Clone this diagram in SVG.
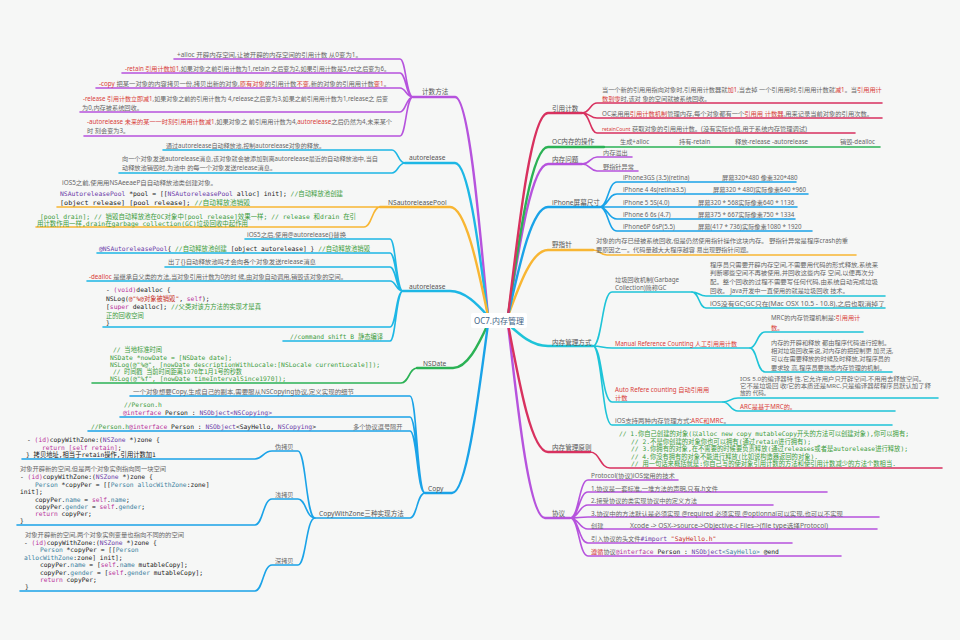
<svg xmlns="http://www.w3.org/2000/svg" width="960" height="640" viewBox="0 0 960 640">
<style>
text{font-family:"Noto Sans","Noto Sans CJK SC",sans-serif;font-size:6.2px;fill:#666}
.l{font-size:6.6px;fill:#555}
.c{font-family:"DejaVu Sans Mono","Noto Sans CJK SC",monospace;font-size:6.3px;fill:#222}
.r{fill:#d8403a}
.g{fill:#3c9c3c}
.k{fill:#b8329b}
.p{fill:#6a3aa8}
.s{fill:#c62b1f}
.q{fill:#3d7f9e}
.sm{font-size:5.6px}
.m{stroke-width:2.4;fill:none;stroke-linecap:round}
.b{stroke-width:1.6;fill:none;stroke-linecap:round}
</style>
<rect width="960" height="640" fill="#f6f7f6"/>
<g id="connectors">
<g stroke="#b653dd">
<path class="m" d="M488,316 C478,206 468,97 455,97 L413,97"/>
<path class="b" d="M413,97 C406,97 406,59 400,59 L174,59 M413,97 C406,97 406,73 400,73 L122,73 M413,97 C406,97 406,88 400,88 L96,88 M413,97 C406,97 406,112 400,112 L80,112 M413,97 C406,97 406,136 400,136 L84,136"/>
<path class="m" d="M508,316 C520,240 532,164 548,164 L582,164"/>
<path class="b" d="M582,164 C590,164 590,157 597,157 L632,157 M582,164 C590,164 590,171 597,171 L638,171"/>
<path class="m" d="M508,324 C519,421 530,518 545,518 L570,518"/>
<path class="b" d="M570,518 C579,518 579,480 588,480 L678,480 M570,518 C579,518 579,492 588,492 L827,492 M570,518 C579,518 579,505 588,505 L773,505 M570,518 C579,518 579,517 588,517 L879,517 M570,518 C579,518 579,529 588,529 L877,529 M570,518 C579,518 579,543 588,543 L792,543 M570,518 C579,518 579,556 588,556 L841,556"/>
</g>
<g stroke="#1db7e5">
<path class="m" d="M488,316 C478,240 468,163 455,163 L405,163"/>
<path class="b" d="M405,163 C398,163 398,150 392,150 L163,150 M405,163 C398,163 398,173 392,173 L119,173"/>
<path class="m" d="M488,316 C477,304 465,291 450,291 L403,291"/>
<path class="b" d="M403,291 C396,291 396,239 390,239 L245,239 M403,291 C396,291 396,253 390,253 L97,253 M403,291 C396,291 396,267 390,267 L165,267 M403,291 C396,291 396,281 390,281 L87,281 M403,291 C396,291 396,327 390,327 L103,327 M403,291 C396,291 396,341 390,341 L283,341"/>
</g>
<g stroke="#f8b633">
<path class="m" d="M488,316 C477,262 465,207 450,207 L380,207"/>
<path class="b" d="M380,207 L57,207 M380,207 C372,207 372,227 364,227 L36,227"/>
<path class="m" d="M508,316 C520,283 532,250 548,250 L593,250"/>
<path class="b" d="M593,250 C600,250 600,255 607,255 L856,255"/>
</g>
<g stroke="#2bb255">
<path class="m" d="M488,324 C478,346 467,368 453,368 L417,368"/>
<path class="b" d="M417,368 C409,368 409,383 401,383 L92,383"/>
<path class="m" d="M508,316 C520,232 532,147 548,147 L604,147"/>
<path class="b" d="M604,147 L880,147"/>
</g>
<g stroke="#1aa3e8">
<path class="m" d="M488,324 C477,408 466,493 452,493 L425,493"/>
<path class="b" d="M425,493 C417,493 417,396 410,396 L130,396 M425,493 C417,493 417,417 410,417 L120,417 M425,493 C417,493 417,431 410,431 L88,431 M425,493 C417,493 417,518 410,518 L315,518"/>
<path class="b" d="M315,518 C306,518 306,451 298,451 L272,451 C263,451 263,459 255,459 L22,459 M315,518 C306,518 306,499 298,499 L272,499 C263,499 263,525 255,525 L17,525 M315,518 C306,518 306,565 298,565 L272,565 C263,565 263,591 255,591 L20,591"/>
<path class="m" d="M508,316 C520,262 532,207 548,207 L600,207"/>
<path class="b" d="M600,207 C608,207 608,182 617,182 L796,182 M600,207 C608,207 608,194 617,194 L808,194 M600,207 L797,207 M600,207 C608,207 608,219 617,219 L795,219 M600,207 C608,207 608,231 617,231 L812,231"/>
</g>
<g stroke="#d8315f">
<path class="m" d="M508,316 C520,214 532,113 548,113 L582,113"/>
<path class="b" d="M582,113 C590,113 590,103 597,103 L882,103 M582,113 C590,113 590,118 597,118 L882,118 M582,113 C590,113 590,133 597,133 L855,133"/>
<path class="m" d="M508,324 C520,388 532,452 548,452 L590,452"/>
<path class="b" d="M590,452 C600,452 600,468 610,468 L942,468"/>
</g>
<g stroke="#1ec4d8">
<path class="m" d="M508,324 C520,335 532,346 548,346 L593,346"/>
<path class="b" d="M593,346 C602,346 602,292 612,292 L692,292 M593,346 C602,346 602,348 612,348 L750,348 M593,346 C602,346 602,402 612,402 L723,402 M593,346 C602,346 602,425 612,425 L892,425"/>
<path class="b" d="M692,292 C699,292 699,296 706,296 L885,296 M692,292 C699,292 699,308 706,308 L885,308"/>
<path class="b" d="M750,348 C757,348 757,332 765,332 L863,332 M750,348 C757,348 757,372 765,372 L892,372"/>
<path class="b" d="M723,402 C730,402 730,398 738,398 L938,398 M723,402 C730,402 730,411 738,411 L895,411"/>
</g>
</g>
<g id="root">
<rect x="471" y="313" width="56" height="15" rx="2" fill="#fff"/>
<text x="499" y="323.5" text-anchor="middle" style="font-size:8px;fill:#3f6384">OC7.内存管理</text>
</g>
<g id="n-count">
<text class="l" x="422" y="94">计数方法</text>
<text x="177" y="56.5" textLength="185" lengthAdjust="spacingAndGlyphs">+alloc 开辟内存空间,让被开辟的内存空间的引用计数 从0变为1。</text>
<text x="125" y="70.5" textLength="265" lengthAdjust="spacingAndGlyphs"><tspan class="r">-retain 引用计数加1</tspan>,如果对象之前引用计数为1,retain 之后变为2,如果引用计数是5,ret之后变为6。</text>
<text x="99" y="85.5" textLength="291" lengthAdjust="spacingAndGlyphs"><tspan class="r">-copy</tspan> 把某一对象的内容拷贝一份,拷贝出新的对象,<tspan class="r">原有对象</tspan>的引用计数<tspan class="r">不变</tspan>,新的对象的引用用计数<tspan class="r">变1</tspan>。</text>
<text x="83" y="101" textLength="305" lengthAdjust="spacingAndGlyphs"><tspan class="r">-release 引用计数立即减1</tspan>,如果对象之前的引用计数为 4,release之后变为3,如果之前引用用计数为1,release之 后变</text>
<text x="82" y="109.5">为0,内存被系统回收。</text>
<text x="87" y="124" textLength="305" lengthAdjust="spacingAndGlyphs"><tspan class="r">-autorelease 未来的某一一时刻引用用计数减1</tspan>,如果对象之 前引用用计数为4,<tspan class="r">autorelease</tspan>之后仍然为4,未来某个</text>
<text x="87" y="132.5">时 刻会变为3。</text>
</g>
<g id="n-autorelease1">
<text class="l" x="409" y="159.5">autorelease</text>
<text x="166" y="147.5" textLength="159" lengthAdjust="spacingAndGlyphs">通过autorelease自动释放池,控制autorelease对象的释放。</text>
<text x="122" y="161" textLength="256" lengthAdjust="spacingAndGlyphs">向一个对象发送autorelease消息,该对象就会被添加到离autorelease最近的自动释放池中,当自</text>
<text x="122" y="169.5">动释放池销毁时,为池中 的每一个对象发送release消息。</text>
</g>
<g id="n-pool">
<text class="l" x="388" y="204.5">NSautoreleasePool</text>
<text x="62" y="185" textLength="155" lengthAdjust="spacingAndGlyphs">iOS5之前,使用用NSAeeaeP自自动释放池类创建对象。</text>
<text class="c" x="60" y="195.5" textLength="283" lengthAdjust="spacingAndGlyphs"><tspan class="p">NSAutoreleasePool</tspan> *pool = [[<tspan class="p">NSAutoreleasePool</tspan> alloc] init]; <tspan class="g">//自动释放池创建</tspan></text>
<text class="c" x="60" y="204.5" textLength="190" lengthAdjust="spacingAndGlyphs">[object release]    [pool release]; <tspan class="g">//自动释放池销毁</tspan></text>
<text class="c g" x="40" y="218.5" textLength="316" lengthAdjust="spacingAndGlyphs">[pool  drain]; // 销毁自动释放池在OC对象中[pool release]效果一样; // release 和drain 在引</text>
<text class="c g" x="37" y="225.5" textLength="211" lengthAdjust="spacingAndGlyphs">用计数作用一样,drain在garbage collection(GC)垃圾回收中起作用</text>
</g>
<g id="n-autorelease2">
<text class="l" x="409" y="288.5">autorelease</text>
<text x="247" y="236.5" textLength="99" lengthAdjust="spacingAndGlyphs">iOS5之后,使用@autorelease{}替换</text>
<text class="c" x="99" y="250.5" textLength="271" lengthAdjust="spacingAndGlyphs"><tspan class="p">@NSAutoreleasePool</tspan>{ <tspan class="g">//自动释放池创建</tspan> [object autorelease] } <tspan class="g">//自动释放池销毁</tspan></text>
<text x="168" y="264" textLength="148" lengthAdjust="spacingAndGlyphs">出了{}自动释放池吗才会向各个对象发送release消息</text>
<text x="89" y="278.5" textLength="258" lengthAdjust="spacingAndGlyphs"><tspan class="r">-dealloc</tspan> 是继承自父类的方法,当对象引用计数为0的时 候,由对象自动调用,销毁该对象的空间。</text>
<text class="c" x="106" y="292">- <tspan class="k">(void)</tspan>dealloc {</text>
<text class="c" x="106" y="300.5">NSLog(<tspan class="s">@"%@对象被销毁"</tspan>, <tspan class="k">self</tspan>);</text>
<text class="c" x="106" y="309" textLength="155" lengthAdjust="spacingAndGlyphs">[<tspan class="k">super</tspan> dealloc]; <tspan class="g">//父类对该方方法的实现才是真</tspan></text>
<text class="c g" x="106" y="317.5">正的回收空间</text>
<text class="c" x="106" y="325">}</text>
<text class="c g" x="290" y="339" textLength="93" lengthAdjust="spacingAndGlyphs">//command shift B 静态编译</text>
</g>
<g id="n-nsdate">
<text class="l" x="423" y="365.5">NSDate</text>
<text class="c g" x="113" y="352">// 当地标准时间</text>
<text class="c g" x="110" y="359.5" textLength="122" lengthAdjust="spacingAndGlyphs">NSDate *nowDate = [NSDate date];</text>
<text class="c g" x="110" y="366.5" textLength="270" lengthAdjust="spacingAndGlyphs">NSLog(@"%@", [nowDate descriptionWithLocale:[NSLocale currentLocale]]);</text>
<text class="c g" x="113" y="374" textLength="129" lengthAdjust="spacingAndGlyphs">// 时间戳 当前时间距离1970年1月1号的秒数</text>
<text class="c g" x="110" y="381" textLength="176" lengthAdjust="spacingAndGlyphs">NSLog(@"%f", [nowDate timeIntervalSince1970]);</text>
</g>
<g id="n-copy">
<text class="l" x="428" y="490.5">Copy</text>
<text x="133" y="393.5" textLength="221" lengthAdjust="spacingAndGlyphs">一个对象想要Copy,生成自己的副本,需要服从NSCopying协议,定义实现的细节</text>
<text class="c g" x="124" y="406.5">//Person.h</text>
<text class="c" x="123" y="415" textLength="149" lengthAdjust="spacingAndGlyphs"><tspan class="k">@interface</tspan> Person : <tspan class="p">NSObject&lt;NSCopying&gt;</tspan></text>
<text class="c" x="91" y="428.5" textLength="225" lengthAdjust="spacingAndGlyphs"><tspan class="g">//Person.h</tspan><tspan class="k">@interface</tspan> Person : <tspan class="p">NSObject</tspan>&lt;SayHello, <tspan class="p">NSCopying</tspan>&gt;</text>
<text x="353" y="428.5">多个协议逗号隔开</text>
</g>
<g id="n-copywithzone">
<text x="319" y="515.5" class="l">CopyWithZone三种实现方法</text>
<text x="275" y="449">伪拷贝</text>
<text x="275" y="496.5">浅拷贝</text>
<text x="275" y="562.5">深拷贝</text>
<text class="c" x="27" y="442">- <tspan class="k">(id)</tspan>copyWithZone:(<tspan class="p">NSZone</tspan> *)zone {</text>
<text class="c" x="42" y="449.5"><tspan class="k">return</tspan> <tspan class="k">[self retain]</tspan>;</text>
<text class="c" x="26" y="457">} 拷贝地址,相当于retain操作,引用计数加1</text>
<text x="20" y="471" textLength="146" lengthAdjust="spacingAndGlyphs">对象开辟新的空间,但是两个对象实例指向同一块空间</text>
<text class="c" x="20" y="479">- <tspan class="k">(id)</tspan>copyWithZone:(<tspan class="p">NSZone</tspan> *)zone {</text>
<text class="c" x="35" y="486.5"><tspan class="q">Person</tspan> *copyPer = [[<tspan class="q">Person</tspan> <tspan class="q">allocWithZone</tspan>:zone]</text>
<text class="c" x="20" y="494">init];</text>
<text class="c" x="35" y="501.5">copyPer.<tspan class="q">name</tspan> = <tspan class="k">self</tspan>.<tspan class="q">name</tspan>;</text>
<text class="c" x="35" y="509">copyPer.<tspan class="q">gender</tspan> = <tspan class="k">self</tspan>.<tspan class="q">gender</tspan>;</text>
<text class="c" x="35" y="516"><tspan class="k">return</tspan> copyPer;</text>
<text class="c" x="20" y="523">}</text>
<text x="25" y="536.5" textLength="159" lengthAdjust="spacingAndGlyphs">对象开辟新的空间,两个对象实例变量也指向不同的的空间</text>
<text class="c" x="24" y="544.5">- <tspan class="k">(id)</tspan>copyWithZone:(<tspan class="p">NSZone</tspan> *)zone {</text>
<text class="c" x="40" y="552"><tspan class="q">Person</tspan> *copyPer = [[<tspan class="q">Person</tspan></text>
<text class="c" x="24" y="559.5"><tspan class="q">allocWithZone</tspan>:zone] init];</text>
<text class="c" x="40" y="567">copyPer.<tspan class="q">name</tspan> = [<tspan class="k">self</tspan>.<tspan class="q">name</tspan> mutableCopy];</text>
<text class="c" x="40" y="574.5">copyPer.<tspan class="q">gender</tspan> = [<tspan class="k">self</tspan>.<tspan class="q">gender</tspan> mutableCopy];</text>
<text class="c" x="40" y="582"><tspan class="k">return</tspan> copyPer;</text>
<text class="c" x="25" y="589">}</text>
</g>
<g id="n-refcount">
<text class="l" x="552" y="110.5">引用计数</text>
<text x="602" y="91.5">当一个新的引用用指向对象时,引用用计数器就<tspan class="r">加1</tspan>,当去掉 一个引用用时,引用用计数就<tspan class="r">减1</tspan>。当<tspan class="r">引用用计</tspan></text>
<text x="602" y="100.5"><tspan class="r">数到零</tspan>时,该对 象的空间就被系统回收。</text>
<text x="602" y="115.5" textLength="271" lengthAdjust="spacingAndGlyphs">OC采用用<tspan class="r">引用计数机制</tspan>管理内存,每个对象都有一个<tspan class="r">引用用 计数器</tspan>,用来记录当前对象的引用次数。</text>
<text x="602" y="130.5" textLength="205" lengthAdjust="spacingAndGlyphs"><tspan class="r" style="font-size:5px">retainCount</tspan> 获取对象的引用用计数。(没有实际价值,用于系统内存管理调试)</text>
</g>
<g id="n-ops">
<text class="l" x="552" y="143.5">OC内存的操作</text>
<text x="620" y="143.5">生成+alloc</text>
<text x="679" y="143.5">持有-retain</text>
<text x="735" y="143.5">释放-release  -autorelease</text>
<text x="840" y="143.5">销毁-dealloc</text>
</g>
<g id="n-problem">
<text class="l" x="552" y="161.5">内存问题</text>
<text x="603" y="155">内存溢出</text>
<text x="603" y="168.5">野指针异常</text>
</g>
<g id="n-iphone">
<text class="l" x="552" y="204.5">iPhone屏幕尺寸</text>
<text x="623" y="179.5">iPhone3GS (3.5)(retina)</text><text x="722" y="179.5">屏幕320*480 像素320*480</text>
<text x="623" y="192">iPhone 4 4s(retina3.5)</text><text x="713" y="192">屏幕320 * 480)实际像素640 *960</text>
<text x="623" y="204.5">iPhone 5 5S(4.0)</text><text x="698" y="204.5">屏幕320 * 568实际像素640  * 1136</text>
<text x="623" y="216.5">iPhone 6 6s (4.7)</text><text x="698" y="216.5">屏幕375 * 667实际像素750 * 1334</text>
<text x="623" y="229">iPhone6P 6sP(5.5)</text><text x="698" y="229">屏幕(417 * 736)实际像素1080 * 1920</text>
</g>
<g id="n-wild">
<text class="l" x="552" y="246.5">野指针</text>
<text x="596" y="243" textLength="252" lengthAdjust="spacingAndGlyphs">对象的内存已经被系统回收,但是仍然使用指针操作这块内存。 野指针异常是程序crash的重</text>
<text x="596" y="251.5">要原因之一。代码量越大大程序越容 易出现野指针问题。</text>
</g>
<g id="n-manage">
<text class="l" x="552" y="344.5">内存管理方式</text>
<text x="615" y="281.5">垃圾回收机制(Garbage</text>
<text x="615" y="289.5">Collection)简称GC</text>
<text x="710" y="266.5" textLength="168" lengthAdjust="spacingAndGlyphs">程序员只需要开辟内存空间,不需要用代码的形式释放,系统来</text>
<text x="710" y="275" textLength="164" lengthAdjust="spacingAndGlyphs">判断哪些空间不再被使用,并回收这些内存 空间,以便再次分</text>
<text x="710" y="283.5" textLength="168" lengthAdjust="spacingAndGlyphs">配。整个回收的过程不需要写任何代码,由系统自动完成垃圾</text>
<text x="710" y="293">回收。 Java开发中一直使用的就是垃圾回收 技术。</text>
<text x="710" y="306" textLength="175" lengthAdjust="spacingAndGlyphs">iOS没有GC;GC只在(Mac OSX 10.5 - 10.8),之后也取消掉了</text>
<text class="r" x="615" y="345.5" textLength="122" lengthAdjust="spacingAndGlyphs">Manual Reference Counting 人工引用用计数</text>
<text x="771" y="319.5">MRC的内存管理机制是:<tspan class="r">引用用计</tspan></text>
<text x="771" y="329.5" class="r">数。</text>
<text x="771" y="345">内存的开辟和释放 都由程序代码进行控制。</text>
<text x="771" y="353">相对垃圾回收来说,对内存的把控制更 加灵活,</text>
<text x="771" y="361">可以在需要释放的时候及时释放,对程序员的</text>
<text x="771" y="369.5">要求较 高,程序员要熟悉内存管理的机制。</text>
<text class="r" x="615" y="392">Auto Refere counting 自动引用用</text>
<text class="r" x="615" y="399.5">计数</text>
<text class="sm" x="740" y="381" textLength="185" lengthAdjust="spacingAndGlyphs">IOS 5.0的编译器特 性,它允许用户只开辟空间,不用用去释放空间。</text>
<text class="sm" x="740" y="388" textLength="191" lengthAdjust="spacingAndGlyphs">它不是垃圾回 收!它的本质还是MRC,只是编译器帮程序员默认加了释</text>
<text class="sm" x="740" y="395">放的 代码。</text>
<text class="r" x="740" y="408.5">ARC是基于MRC的。</text>
<text x="615" y="422.5" textLength="115" lengthAdjust="spacingAndGlyphs">iOS支持两种内存管理方式:<tspan class="r">ARC和MRC</tspan>。</text>
</g>
<g id="n-principle">
<text class="l" x="552" y="450">内存管理原则</text>
<text class="c g" x="619" y="436" textLength="290" lengthAdjust="spacingAndGlyphs">// 1.你自己创建的对象(以alloc new copy mutableCopy开头的方法可以创建对象),你可以拥有;</text>
<text class="c g" x="631" y="443.5" textLength="180" lengthAdjust="spacingAndGlyphs">// 2.不是你创建的对象你也可以拥有(通过retain进行拥有);</text>
<text class="c g" x="631" y="451" textLength="277" lengthAdjust="spacingAndGlyphs">// 3.你拥有的对象,在不需要的时候要负责释放(通过releases或者是autorelease进行释放);</text>
<text class="c g" x="631" y="458.5" textLength="187" lengthAdjust="spacingAndGlyphs">// 4.你没有拥有的对象不能进行释放(比如说构造器返回的对象).</text>
<text class="c g" x="631" y="465.5" textLength="265" lengthAdjust="spacingAndGlyphs">// 用一句话来概括就是:你自己写的使对象引用计数的方法和使引用计数减少的方法个数相当.</text>
</g>
<g id="n-protocol">
<text class="l" x="552" y="516">协议</text>
<text x="591" y="478" textLength="84" lengthAdjust="spacingAndGlyphs">Protocol(协议)iOS常用的技术</text>
<text x="591" y="490.5" textLength="127" lengthAdjust="spacingAndGlyphs">1.协议是一套标准,一堆方法的声明,只有.h文件</text>
<text x="591" y="503" textLength="106" lengthAdjust="spacingAndGlyphs">2.接受协议的类实现协议中的定义方法</text>
<text x="591" y="515.5" textLength="252" lengthAdjust="spacingAndGlyphs">3.协议中的方法默认是必须实现  @required 必须实现 @optionnal可以实现,也可以不实现</text>
<text x="591" y="527.5">创建</text>
<text x="630" y="527.5" textLength="198" lengthAdjust="spacingAndGlyphs">Xcode -&gt; OSX-&gt;source-&gt;Objective-c Files-&gt;(file type选择Protocol)</text>
<text x="591" y="540.5">引入协议的头文件<tspan class="c p">#import</tspan><tspan class="c s"> "SayHello.h"</tspan></text>
<text x="591" y="553.5"><tspan class="r">遵循</tspan>协议<tspan class="c k">@interface</tspan><tspan class="c"> Person : </tspan><tspan class="c p">NSObject</tspan><tspan class="c q">&lt;SayHello&gt;</tspan><tspan class="c"> @end</tspan></text>
</g>
</svg>
